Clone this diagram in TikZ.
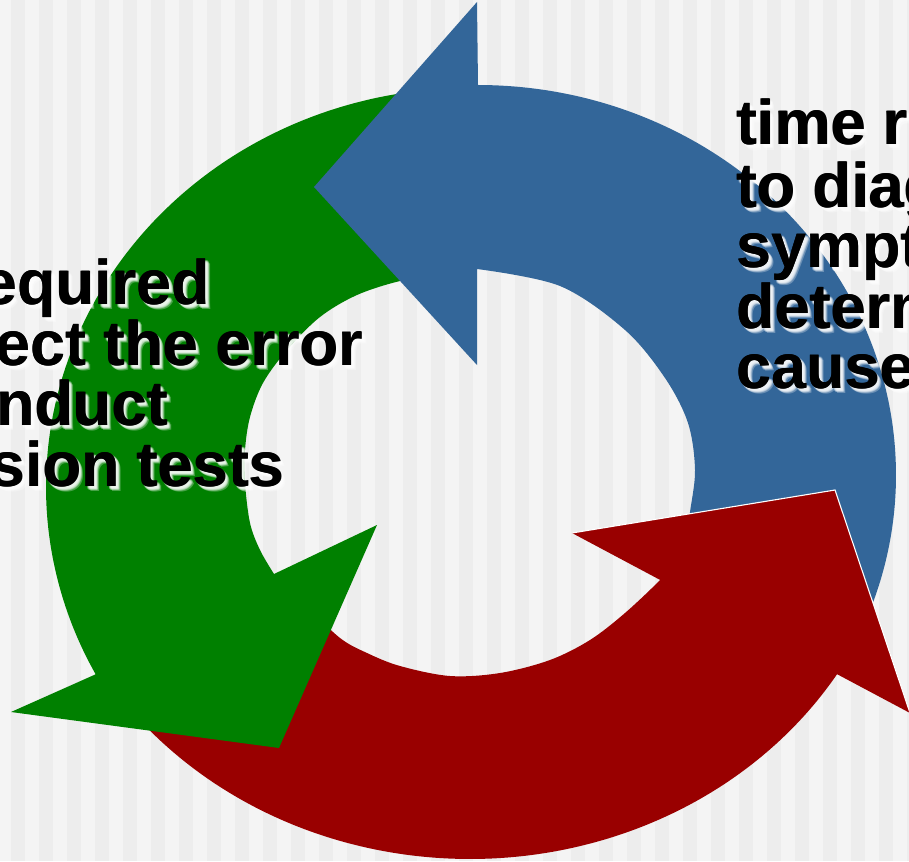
\documentclass[tikz,border=0pt]{standalone}
\usepackage{fontspec}
\setmainfont{Liberation Sans}
\usetikzlibrary{calc}
\definecolor{bgLight}{HTML}{F4F4F4}
\definecolor{bgDark}{HTML}{EDEDED}
\definecolor{cycBlue}{HTML}{336699}
\definecolor{cycGreen}{HTML}{008000}
\definecolor{cycRed}{HTML}{990000}
\tikzset{
  lbl/.style={anchor=base west, inner sep=0pt, outer sep=0pt,
    font=\fontsize{63}{63}\selectfont\bfseries, text=black},
  glow/.style={lbl, text=white, opacity=0.28},
  edgeline/.style={smooth, tension=0.55},
}
% one line of caption text: a soft white shadow below right, then the
% black text set twice, one pixel apart, for a heavier stroke
\newcommand\glowline[3]{%
  \foreach \dx/\dy in {2/2,3/3,4/4,3/2,2/3,4/3,3/4,5/5}{%
    \node[glow] at ($(#2)+(\dx,\dy)$) {#3};}
  \node[lbl] at ($(#2)+(0.9,0)$) {#3};
  \node[lbl] (#1) at (#2) {#3};}
\begin{document}
\begin{tikzpicture}[x=1pt,y=-1pt]
\useasboundingbox (0,0) rectangle (909,861);
\clip (0,0) rectangle (909,861);

% striped backdrop
\fill[bgLight] (0,0) rectangle (909,861);
\foreach \k in {0,...,32}
  \fill[bgDark] ({11+28*\k},0) rectangle ({25+28*\k},861);

% red band (its head is laid on top at the end)
\fill[cycRed]
  plot[domain=143:29, samples=60, smooth] ({470+432*cos(\x)},{468+391*sin(\x)})
  -- plot[edgeline] coordinates {(665,571) (660,580) (625,613) (590,640)
    (550,660) (500,673) (450,676) (400,666) (367,653) (340,638) (305,605)}
  -- cycle;

% green arrow: outer rim on an ellipse, then head, then inner rim
\fill[cycGreen]
  plot[domain=-94:-208, samples=60, smooth] ({470+424*cos(\x)},{487+399*sin(\x)})
  -- (11,712) -- (279,748) -- (377,525) --
  plot[edgeline] coordinates {(274,574) (260,550) (250,523) (245,483) (245,450)
    (250,417) (263,383) (287,350) (320,317) (357,295) (400,281) (440,275)}
  -- cycle;

% blue arrow
\fill[cycBlue]
  plot[domain=-90:21, samples=60, smooth] ({478+418*cos(\x)},{475+390*sin(\x)})
  -- (860,640)
  -- plot[edgeline] coordinates {(688,528) (690,512) (695,470) (688,423) (665,378)
    (625,330) (560,286) (477,269)}
  -- (477,365) -- (314,187) -- (477,2) -- cycle;

% red head
\fill[cycRed] (572,533) -- (835,490) -- (910,713) -- cycle;
\draw[white, line width=1.1pt, line join=miter] (572,533) -- (835,490) -- (910,713);

% captions
\glowline{l1}{-18,304}{equired}
\glowline{l2}{-5,365}{ect the error}
\glowline{l3}{-4,425}{nduct}
\glowline{l4}{-10,486}{sion tests}

\glowline{r1}{736,145}{time r}
\glowline{r2}{736,207}{to diag}
\glowline{r3}{736,267}{sympt}
\glowline{r4}{736,328}{determ}
\glowline{r5}{736,388}{cause}
\end{tikzpicture}
\end{document}
